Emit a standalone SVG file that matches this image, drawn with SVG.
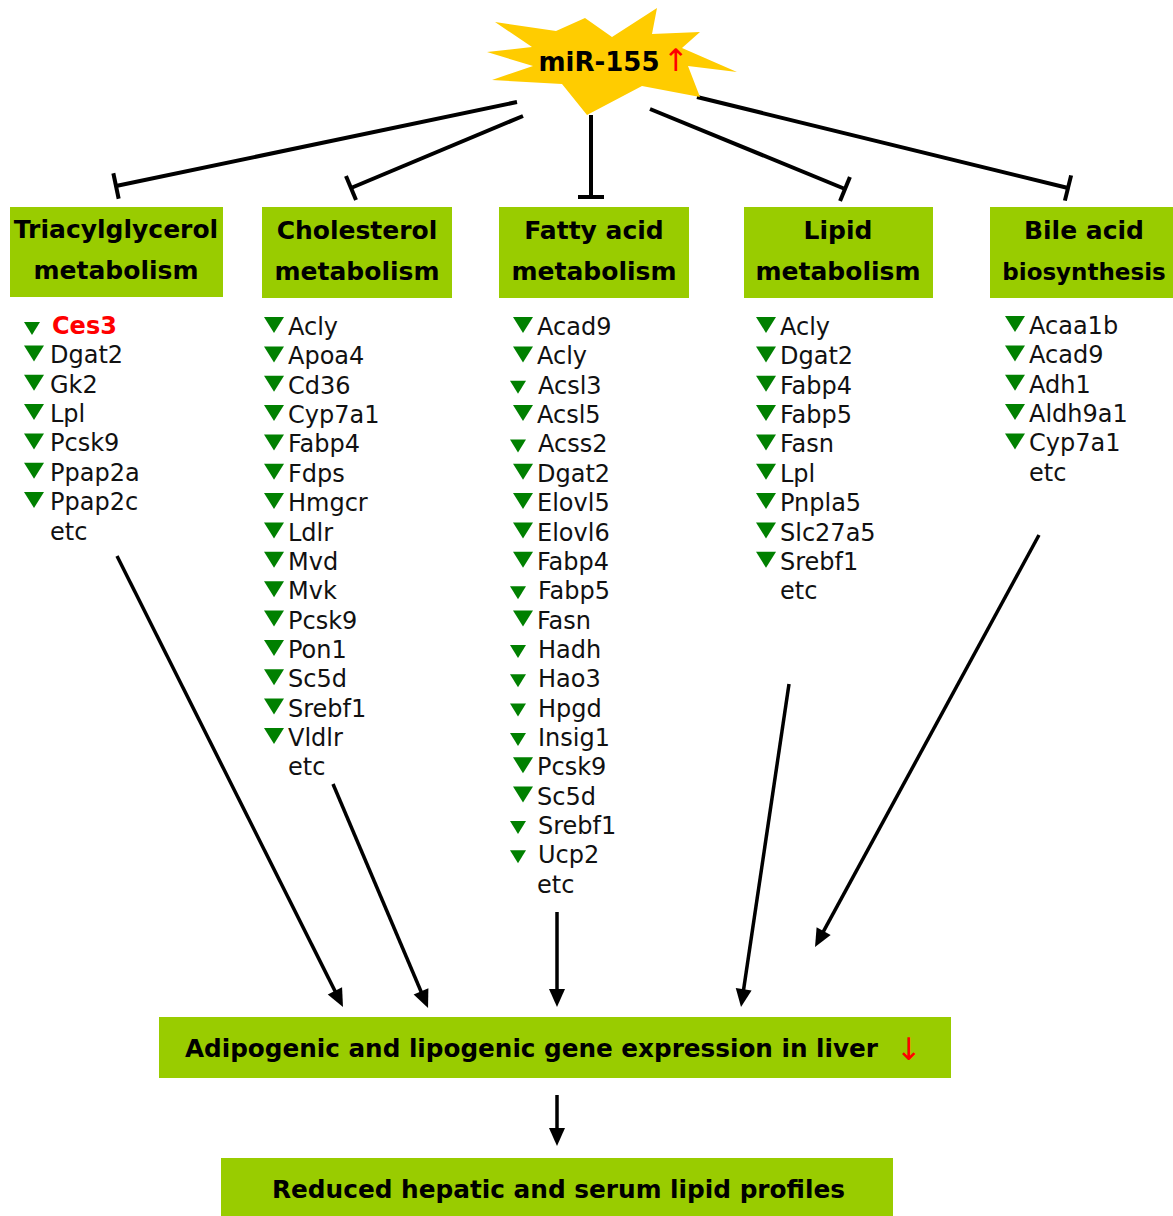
<svg xmlns="http://www.w3.org/2000/svg" xmlns:xlink="http://www.w3.org/1999/xlink" width="1173" height="1216" viewBox="0 0 1173 1216">
<style>
.box{fill:#99CC00;}
.title{font-family:"DejaVu Sans",Verdana,sans-serif;font-weight:bold;font-size:25px;fill:#000;text-anchor:middle;}
.gene{font-family:"DejaVu Sans",Verdana,sans-serif;font-size:24px;fill:#111;}
.tri{fill:#008000;}
.inh{stroke:#000;stroke-width:4;fill:none;marker-end:url(#tee);}
.arr{stroke:#000;stroke-width:3.5;fill:none;marker-end:url(#head);}
.big{font-family:"DejaVu Sans",Verdana,sans-serif;font-weight:bold;font-size:24px;fill:#000;}
.red{fill:#FF0000;font-family:"DejaVu Sans",sans-serif;}
</style>
<defs>
<marker id="tee" markerUnits="userSpaceOnUse" viewBox="-3 -14 6 28" refX="0" refY="0" markerWidth="6" markerHeight="28" orient="auto">
<path d="M0,-13 L0,13" stroke="#000" stroke-width="4"/>
</marker>
<marker id="head" markerUnits="userSpaceOnUse" viewBox="-13 -9 20 18" refX="0" refY="0" markerWidth="20" markerHeight="18" orient="auto">
<path d="M-12,-8 L6,0 L-12,8 Z" fill="#000"/>
</marker>
<path id="t" class="tri" d="M0,0 L20,0 L10,16 Z"/>
<path id="ts" class="tri" d="M0,0 L16,0 L8,13 Z"/>
</defs>
<rect width="1173" height="1216" fill="#fff"/>

<g id="connectors">
<line class="inh" x1="517" y1="102" x2="116" y2="186"/>
<line class="inh" x1="523" y1="116" x2="351" y2="188"/>
<line class="inh" x1="591" y1="115" x2="591" y2="197"/>
<line class="inh" x1="650" y1="109" x2="845" y2="189"/>
<line class="inh" x1="697" y1="97" x2="1068" y2="188"/>
<line class="arr" x1="117" y1="556" x2="340.3" y2="1001.6"/>
<line class="arr" x1="333" y1="784" x2="425.7" y2="1002.5"/>
<line class="arr" x1="557" y1="912" x2="557" y2="1001"/>
<line class="arr" x1="789" y1="684" x2="741.9" y2="1001.1"/>
<line class="arr" x1="1039" y1="535" x2="817.9" y2="941.7"/>
<line class="arr" x1="557" y1="1095" x2="557" y2="1140"/>
</g>

<g id="mir155">
<polygon fill="#FFCC00" points="487,52 532,47 495,22 556,31 585,18 612,37 657,8 652,34 700,32 682,48 737,72 688,66 700,97 642,86 587,115 562,84 492,80 533,66"/>
<text x="599" y="71" style="font-family:'DejaVu Sans',Verdana,sans-serif;font-weight:bold;font-size:26px;" text-anchor="middle">miR-155</text>
<text x="676" y="71" class="red" font-size="31" text-anchor="middle">↑</text>
</g>

<g id="triacylglycerol">
<rect class="box" x="10" y="207" width="213" height="90"/>
<text class="title" x="116" y="238">Triacylglycerol</text>
<text class="title" x="116" y="279">metabolism</text>
<use xlink:href="#ts" x="24" y="322"/>
<text x="52" y="334" style="font-family:'DejaVu Sans',Verdana,sans-serif;font-weight:bold;font-size:24px;fill:#FF0000;">Ces3</text>
<use xlink:href="#t" x="24" y="345.4"/><text class="gene" x="50" y="363.4">Dgat2</text>
<use xlink:href="#t" x="24" y="374.7"/><text class="gene" x="50" y="392.7">Gk2</text>
<use xlink:href="#t" x="24" y="404"/><text class="gene" x="50" y="422">Lpl</text>
<use xlink:href="#t" x="24" y="433.4"/><text class="gene" x="50" y="451.4">Pcsk9</text>
<use xlink:href="#t" x="24" y="462.8"/><text class="gene" x="50" y="480.8">Ppap2a</text>
<use xlink:href="#t" x="24" y="492.1"/><text class="gene" x="50" y="510.1">Ppap2c</text>
<text class="gene" x="50" y="539.5">etc</text>
</g>

<g id="cholesterol">
<rect class="box" x="262" y="207" width="190" height="91"/>
<text class="title" x="357" y="239">Cholesterol</text>
<text class="title" x="357" y="280">metabolism</text>
<use xlink:href="#t" x="264" y="317"/><text class="gene" x="288" y="335">Acly</text>
<use xlink:href="#t" x="264" y="346.4"/><text class="gene" x="288" y="364.4">Apoa4</text>
<use xlink:href="#t" x="264" y="375.7"/><text class="gene" x="288" y="393.7">Cd36</text>
<use xlink:href="#t" x="264" y="405.1"/><text class="gene" x="288" y="423.1">Cyp7a1</text>
<use xlink:href="#t" x="264" y="434.4"/><text class="gene" x="288" y="452.4">Fabp4</text>
<use xlink:href="#t" x="264" y="463.8"/><text class="gene" x="288" y="481.8">Fdps</text>
<use xlink:href="#t" x="264" y="493.1"/><text class="gene" x="288" y="511.1">Hmgcr</text>
<use xlink:href="#t" x="264" y="522.5"/><text class="gene" x="288" y="540.5">Ldlr</text>
<use xlink:href="#t" x="264" y="551.8"/><text class="gene" x="288" y="569.8">Mvd</text>
<use xlink:href="#t" x="264" y="581.2"/><text class="gene" x="288" y="599.2">Mvk</text>
<use xlink:href="#t" x="264" y="610.5"/><text class="gene" x="288" y="628.5">Pcsk9</text>
<use xlink:href="#t" x="264" y="639.9"/><text class="gene" x="288" y="657.9">Pon1</text>
<use xlink:href="#t" x="264" y="669.2"/><text class="gene" x="288" y="687.2">Sc5d</text>
<use xlink:href="#t" x="264" y="698.6"/><text class="gene" x="288" y="716.6">Srebf1</text>
<use xlink:href="#t" x="264" y="727.9"/><text class="gene" x="288" y="745.9">Vldlr</text>
<text class="gene" x="288" y="775.3">etc</text>
</g>

<g id="fattyacid">
<rect class="box" x="499" y="207" width="190" height="91"/>
<text class="title" x="594" y="239">Fatty acid</text>
<text class="title" x="594" y="280">metabolism</text>
<use xlink:href="#t" x="513" y="317"/><text class="gene" x="537" y="335">Acad9</text>
<use xlink:href="#t" x="513" y="346.4"/><text class="gene" x="537" y="364.4">Acly</text>
<use xlink:href="#ts" x="510" y="380.7"/><text class="gene" x="538" y="393.7">Acsl3</text>
<use xlink:href="#t" x="513" y="405.1"/><text class="gene" x="537" y="423.1">Acsl5</text>
<use xlink:href="#ts" x="510" y="439.4"/><text class="gene" x="538" y="452.4">Acss2</text>
<use xlink:href="#t" x="513" y="463.8"/><text class="gene" x="537" y="481.8">Dgat2</text>
<use xlink:href="#t" x="513" y="493.1"/><text class="gene" x="537" y="511.1">Elovl5</text>
<use xlink:href="#t" x="513" y="522.5"/><text class="gene" x="537" y="540.5">Elovl6</text>
<use xlink:href="#t" x="513" y="551.8"/><text class="gene" x="537" y="569.8">Fabp4</text>
<use xlink:href="#ts" x="510" y="586.2"/><text class="gene" x="538" y="599.2">Fabp5</text>
<use xlink:href="#t" x="513" y="610.5"/><text class="gene" x="537" y="628.5">Fasn</text>
<use xlink:href="#ts" x="510" y="644.9"/><text class="gene" x="538" y="657.9">Hadh</text>
<use xlink:href="#ts" x="510" y="674.2"/><text class="gene" x="538" y="687.2">Hao3</text>
<use xlink:href="#ts" x="510" y="703.6"/><text class="gene" x="538" y="716.6">Hpgd</text>
<use xlink:href="#ts" x="510" y="732.9"/><text class="gene" x="538" y="745.9">Insig1</text>
<use xlink:href="#t" x="513" y="757.3"/><text class="gene" x="537" y="775.3">Pcsk9</text>
<use xlink:href="#t" x="513" y="786.6"/><text class="gene" x="537" y="804.6">Sc5d</text>
<use xlink:href="#ts" x="510" y="821"/><text class="gene" x="538" y="834">Srebf1</text>
<use xlink:href="#ts" x="510" y="850.3"/><text class="gene" x="538" y="863.3">Ucp2</text>
<text class="gene" x="537" y="892.7">etc</text>
</g>

<g id="lipid">
<rect class="box" x="744" y="207" width="189" height="91"/>
<text class="title" x="838" y="239">Lipid</text>
<text class="title" x="838" y="280">metabolism</text>
<use xlink:href="#t" x="756" y="317"/><text class="gene" x="780" y="335">Acly</text>
<use xlink:href="#t" x="756" y="346.4"/><text class="gene" x="780" y="364.4">Dgat2</text>
<use xlink:href="#t" x="756" y="375.7"/><text class="gene" x="780" y="393.7">Fabp4</text>
<use xlink:href="#t" x="756" y="405.1"/><text class="gene" x="780" y="423.1">Fabp5</text>
<use xlink:href="#t" x="756" y="434.4"/><text class="gene" x="780" y="452.4">Fasn</text>
<use xlink:href="#t" x="756" y="463.8"/><text class="gene" x="780" y="481.8">Lpl</text>
<use xlink:href="#t" x="756" y="493.1"/><text class="gene" x="780" y="511.1">Pnpla5</text>
<use xlink:href="#t" x="756" y="522.5"/><text class="gene" x="780" y="540.5">Slc27a5</text>
<use xlink:href="#t" x="756" y="551.8"/><text class="gene" x="780" y="569.8">Srebf1</text>
<text class="gene" x="780" y="599.2">etc</text>
</g>

<g id="bileacid">
<rect class="box" x="990" y="207" width="183" height="91"/>
<text class="title" x="1084" y="239">Bile acid</text>
<text class="title" x="1084" y="280" font-size="23" style="font-size:23px;">biosynthesis</text>
<use xlink:href="#t" x="1005" y="316"/><text class="gene" x="1029" y="334">Acaa1b</text>
<use xlink:href="#t" x="1005" y="345.4"/><text class="gene" x="1029" y="363.4">Acad9</text>
<use xlink:href="#t" x="1005" y="374.7"/><text class="gene" x="1029" y="392.7">Adh1</text>
<use xlink:href="#t" x="1005" y="404"/><text class="gene" x="1029" y="422">Aldh9a1</text>
<use xlink:href="#t" x="1005" y="433.4"/><text class="gene" x="1029" y="451.4">Cyp7a1</text>
<text class="gene" x="1029" y="480.8">etc</text>
</g>

<g id="expression">
<rect class="box" x="159" y="1017" width="792" height="61"/>
<text class="big" x="185" y="1057" textLength="693" lengthAdjust="spacingAndGlyphs">Adipogenic and lipogenic gene expression in liver</text>
<text x="909" y="1060" class="red" font-size="31" text-anchor="middle">↓</text>
</g>

<g id="reduced">
<rect class="box" x="221" y="1158" width="672" height="58"/>
<text class="big" x="272" y="1198" textLength="573" lengthAdjust="spacingAndGlyphs">Reduced hepatic and serum lipid profiles</text>
</g>
</svg>
